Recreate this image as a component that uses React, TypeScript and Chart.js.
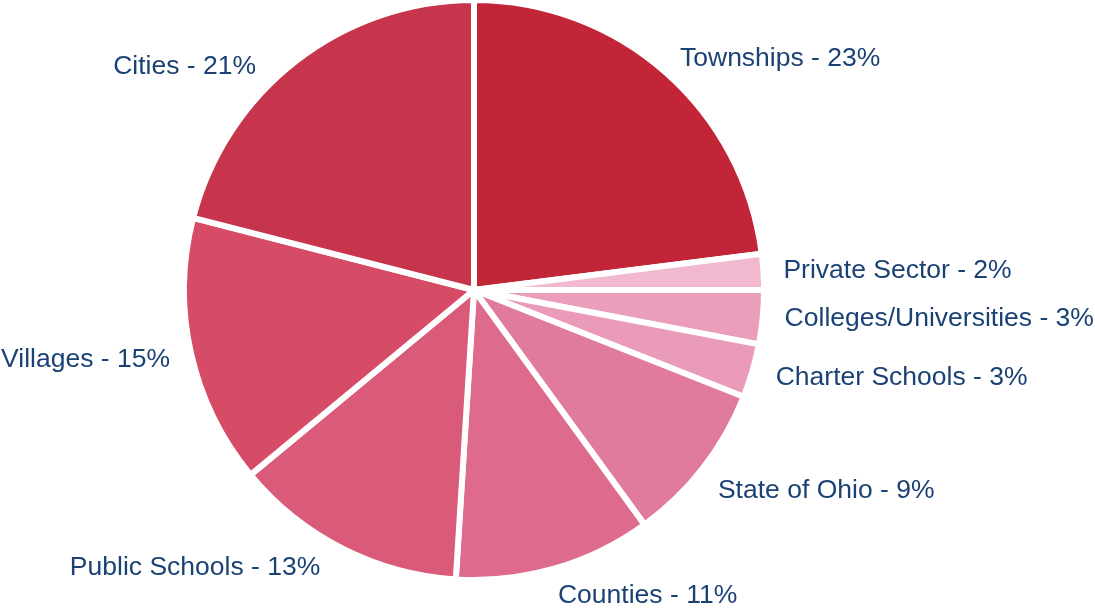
import React, { useEffect, useRef } from "react";
import { Chart, registerables } from "chart.js";

Chart.register(...registerables);

const categories = [
  "Townships",
  "Private Sector",
  "Colleges/Universities",
  "Charter Schools",
  "State of Ohio",
  "Counties",
  "Public Schools",
  "Villages",
  "Cities",
];
const shares = [23, 2, 3, 3, 9, 11, 13, 15, 21];
const sliceColors = [
  "#C22537",
  "#F1B8D0",
  "#EB9EBB",
  "#EA9BBA",
  "#E07B9D",
  "#DE6B8B",
  "#DA5A79",
  "#D64C66",
  "#C6354C",
];

// label placement tweaks (px) relative to an anchor just outside each slice
const labelNudges: [number, number][] = [
  [1, 0],
  [0, -1.5],
  [2, -2],
  [4, 0],
  [-1, 9],
  [-2.5, 6],
  [-13, 0],
  [-1.5, 0],
  [-28, 20],
];

const labelPlugin = {
  id: "outsideLabels",
  afterDatasetsDraw(chart: any) {
    const ctx = chart.ctx;
    const meta = chart.getDatasetMeta(0);
    ctx.save();
    ctx.font = '26.5px "Liberation Sans", Arial, sans-serif';
    ctx.fillStyle = "#1B4275";
    ctx.textBaseline = "alphabetic";
    meta.data.forEach((arc: any, i: number) => {
      const { x, y, startAngle, endAngle, outerRadius } = arc.getProps(
        ["x", "y", "startAngle", "endAngle", "outerRadius"],
        true
      );
      const mid = (startAngle + endAngle) / 2;
      const r = outerRadius + 20;
      const ax = x + Math.cos(mid) * r;
      const ay = y + Math.sin(mid) * r;
      const right = Math.cos(mid) >= 0;
      ctx.textAlign = right ? "left" : "right";
      const [dx, dy] = labelNudges[i];
      const text = `${categories[i]} - ${shares[i]}%`;
      ctx.fillText(text, ax + dx, ay + dy + 9);
    });
    ctx.restore();
  },
};

export default function App() {
  const ref = useRef<HTMLCanvasElement>(null);
  useEffect(() => {
    if (!ref.current) return;
    const chart = new Chart(ref.current, {
      type: "pie",
      data: {
        labels: categories,
        datasets: [
          {
            data: shares,
            backgroundColor: sliceColors,
            borderColor: "#FFFFFF",
            borderWidth: 6,
            borderJoinStyle: "round",
          } as any,
        ],
      },
      options: {
        responsive: false,
        animation: false,
        radius: 290,
        layout: { padding: { left: 0, right: 147, top: 0, bottom: 29 } },
        plugins: {
          legend: { display: false },
          tooltip: { enabled: false },
        },
      } as any,
      plugins: [labelPlugin],
    });
    return () => chart.destroy();
  }, []);
  return (
    <div style={{ position: "fixed", left: 0, top: 0, width: 1095, height: 609, background: "#fff" }}>
      <canvas ref={ref} width={1095} height={609} style={{ width: 1095, height: 609 }} />
    </div>
  );
}
